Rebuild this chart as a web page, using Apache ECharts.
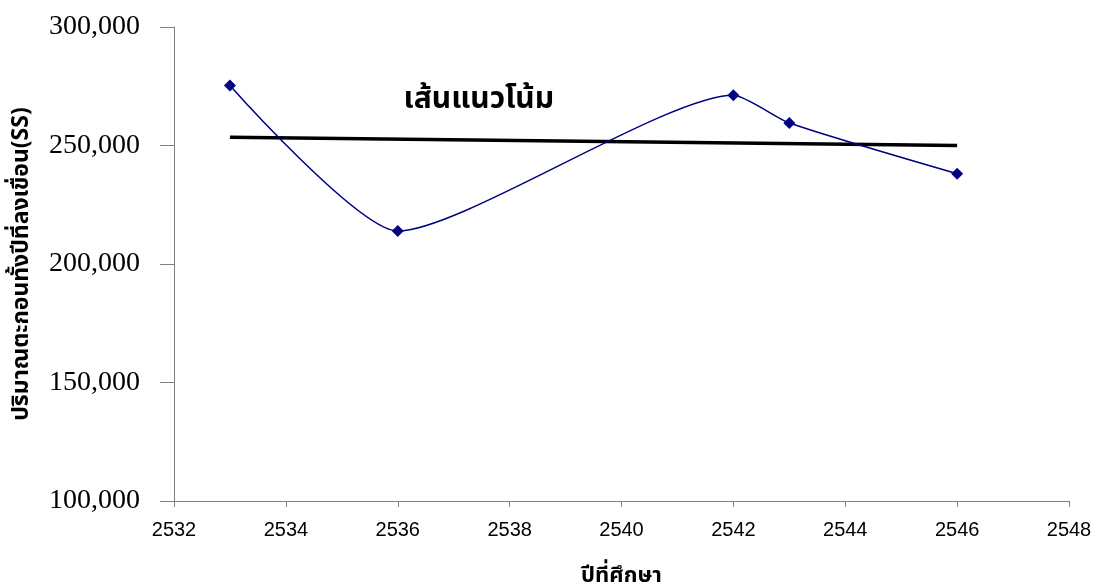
<!DOCTYPE html>
<html>
<head>
<meta charset="utf-8">
<script src="https://cdn.jsdelivr.net/npm/echarts@6/dist/echarts.min.js"></script>
<style>
html,body{margin:0;padding:0;background:#fff;}
#chart{width:1093px;height:586px;}
</style>
</head>
<body>
<div id="chart"></div>
<script>
// Data
var years = [2533, 2536, 2542, 2543, 2546];
var sediment = [275300, 213900, 271200, 259500, 238100];
var trendYears = [2533, 2546];
var trendValues = [253500, 250000];
var xTicks = [2532, 2534, 2536, 2538, 2540, 2542, 2544, 2546, 2548];
var yTicks = [100000, 150000, 200000, 250000, 300000];
var trendLabel = 'เส้นแนวโน้ม';
var trendLabelAt = [2537.45, 268500];
var xTitle = 'ปีที่ศึกษา';
var yTitle = 'ปริมาณตะกอนทั้งปีที่ลงเขื่อน(SS)';

var thaiFont = '"Noto Sans Thai", "Noto Sans Thai UI", "Loma", "Garuda", "Noto Sans", "DejaVu Sans", sans-serif';

var chart = echarts.init(document.getElementById('chart'));
chart.setOption({
  animation: false,
  backgroundColor: '#ffffff',
  grid: { left: 174, right: 24, top: 27, bottom: 85, containLabel: false, outerBoundsMode: 'none' },
  xAxis: {
    type: 'value',
    min: xTicks[0],
    max: xTicks[xTicks.length - 1],
    interval: xTicks[1] - xTicks[0],
    name: xTitle,
    nameLocation: 'middle',
    nameGap: 66,
    nameTextStyle: { fontFamily: thaiFont, fontWeight: 'bold', fontSize: 22, color: '#000' },
    axisLine: { show: true, lineStyle: { color: '#808080', width: 1 } },
    axisTick: { show: true, length: 6, lineStyle: { color: '#808080' } },
    axisLabel: {
      margin: 19,
      fontFamily: '"Liberation Sans", Arial, sans-serif',
      fontSize: 20,
      color: '#000',
      formatter: function (v) { return String(v); }
    },
    splitLine: { show: false }
  },
  yAxis: {
    type: 'value',
    min: yTicks[0],
    max: yTicks[yTicks.length - 1],
    interval: yTicks[1] - yTicks[0],
    name: yTitle,
    nameLocation: 'middle',
    nameRotate: 90,
    nameGap: 139,
    nameTextStyle: { fontFamily: thaiFont, fontWeight: 'bold', fontSize: 23, color: '#000' },
    axisLine: { show: true, lineStyle: { color: '#808080', width: 1 } },
    axisTick: { show: true, length: 14, lineStyle: { color: '#808080' } },
    axisLabel: {
      margin: 34,
      fontFamily: '"Liberation Serif", "Times New Roman", serif',
      fontSize: 28,
      color: '#000',
      formatter: function (v) { return v.toLocaleString('en-US'); }
    },
    splitLine: { show: false }
  },
  series: [
    {
      type: 'line',
      data: years.map(function (y, i) { return [y, sediment[i]]; }),
      smooth: 0.2,
      symbol: 'diamond',
      symbolSize: 12,
      itemStyle: { color: '#000080' },
      lineStyle: { color: '#000080', width: 1.5 },
      z: 3
    },
    {
      type: 'line',
      data: trendYears.map(function (y, i) { return [y, trendValues[i]]; }),
      symbol: 'none',
      lineStyle: { color: '#000000', width: 3.5 },
      z: 2,
      markPoint: {
        symbol: 'circle',
        symbolSize: 0,
        data: [{ coord: trendLabelAt }],
        label: {
          show: true,
          position: 'inside',
          formatter: trendLabel,
          fontFamily: thaiFont,
          fontWeight: 'bold',
          fontSize: 30,
          color: '#000'
        }
      }
    }
  ]
});
</script>
</body>
</html>
